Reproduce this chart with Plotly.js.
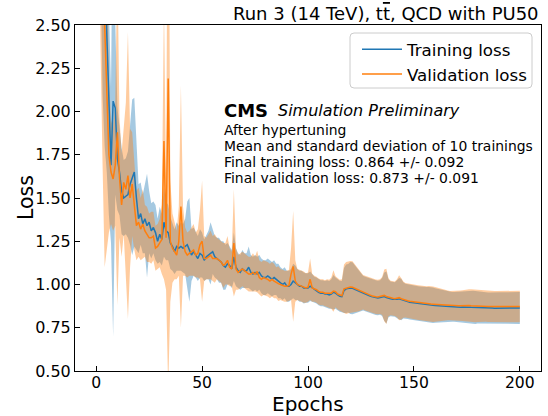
<!DOCTYPE html>
<html>
<head>
<meta charset="utf-8">
<script src="https://cdn.plot.ly/plotly-3.0.1.min.js"></script>
<style>html,body{margin:0;padding:0;background:#fff;}#chart{width:548px;height:416px;}</style>
</head>
<body>
<div id="chart"></div>
<script>
// Epoch numbers
const epochs = Array.from({length: 200}, (_, i) => i + 1);

// Mean training loss (10 trainings)
const trainMean = [
5.0,4.0,3.3,2.9,2.45,2.0,1.69,2.06,2.02,1.73,
1.65,1.54,1.50,1.51,1.52,1.58,1.62,1.65,1.50,1.38,
1.41,1.35,1.38,1.34,1.36,1.31,1.33,1.30,1.25,1.29,
1.26,1.36,1.31,1.30,1.24,1.22,1.19,1.22,1.21,1.22,
1.21,1.22,1.23,1.20,1.17,1.19,1.17,1.15,1.18,1.17,
1.14,1.16,1.17,1.18,1.19,1.16,1.15,1.14,1.13,1.11,
1.10,1.12,1.11,1.09,1.16,1.10,1.08,1.07,1.09,1.08,
1.08,1.10,1.07,1.06,1.07,1.06,1.07,1.05,1.04,1.04,
1.05,1.04,1.03,1.04,1.03,1.02,1.01,1.00,1.01,0.99,
0.99,1.00,1.02,1.01,1.00,0.99,0.99,0.98,0.98,0.98,
0.99,0.98,0.97,0.965,0.955,0.95,0.95,0.945,0.945,0.94,
0.945,0.955,0.95,0.94,0.932,0.93,0.965,0.975,0.978,0.98,
0.978,0.972,0.966,0.96,0.955,0.95,0.945,0.94,0.935,0.93,
0.926,0.924,0.922,0.925,0.928,0.93,0.925,0.92,0.917,0.915,
0.913,0.915,0.918,0.913,0.908,0.904,0.901,0.898,0.896,0.894,
0.892,0.89,0.889,0.887,0.886,0.885,0.883,0.882,0.88,0.879,
0.878,0.877,0.876,0.875,0.874,0.873,0.872,0.871,0.870,0.870,
0.869,0.869,0.870,0.871,0.870,0.869,0.868,0.868,0.867,0.867,
0.866,0.866,0.865,0.865,0.864,0.864,0.864,0.863,0.863,0.863,
0.863,0.863,0.863,0.864,0.864,0.864,0.864,0.864,0.864,0.864
];

// Standard deviation of training loss
const trainStd = [
1.2,1.2,1.2,1.1,0.8,0.6,0.45,1.36,0.5,0.3,
0.25,0.25,0.22,0.22,0.25,0.35,0.45,0.43,0.3,0.2,
0.18,0.17,0.2,0.3,0.18,0.16,0.15,0.16,0.13,0.16,
0.15,0.2,0.17,0.16,0.15,0.14,0.13,0.14,0.13,0.14,
0.14,0.16,0.25,0.3,0.15,0.14,0.13,0.13,0.14,0.13,
0.12,0.13,0.14,0.18,0.13,0.12,0.12,0.13,0.12,0.14,
0.13,0.12,0.11,0.11,0.14,0.11,0.1,0.1,0.11,0.1,
0.1,0.12,0.1,0.1,0.1,0.1,0.1,0.1,0.1,0.1,
0.1,0.1,0.1,0.1,0.09,0.1,0.09,0.09,0.09,0.09,
0.09,0.09,0.1,0.1,0.09,0.09,0.09,0.09,0.085,0.085,
0.085,0.08,0.075,0.075,0.075,0.075,0.075,0.075,0.08,0.08,
0.085,0.1,0.09,0.09,0.09,0.09,0.13,0.14,0.14,0.15,
0.15,0.14,0.13,0.12,0.11,0.1,0.1,0.1,0.1,0.1,
0.1,0.1,0.1,0.1,0.11,0.14,0.15,0.11,0.1,0.1,
0.1,0.11,0.12,0.12,0.105,0.1,0.1,0.1,0.1,0.1,
0.1,0.1,0.1,0.1,0.098,0.1,0.102,0.104,0.103,0.1,
0.098,0.095,0.092,0.09,0.088,0.087,0.086,0.086,0.086,0.087,
0.088,0.089,0.09,0.092,0.094,0.095,0.096,0.096,0.095,0.093,
0.092,0.091,0.09,0.09,0.09,0.09,0.091,0.091,0.091,0.091,
0.092,0.092,0.092,0.092,0.092,0.092,0.092,0.092,0.092,0.092
];

// Mean validation loss
const valMean = [
5.0,3.9,3.2,2.5,2.1,1.75,1.65,1.61,1.69,1.88,
1.62,1.46,1.59,1.55,1.63,1.50,1.58,1.45,1.34,1.36,
1.32,1.35,1.31,1.29,1.27,1.27,1.28,1.21,1.22,1.24,
1.26,1.83,1.27,2.19,1.25,1.21,1.19,1.17,1.25,1.45,
1.25,1.19,1.17,1.18,1.19,1.20,1.17,1.18,1.23,1.25,
1.15,1.15,1.16,1.17,1.15,1.15,1.15,1.14,1.13,1.11,
1.12,1.14,1.10,1.09,1.24,1.09,1.07,1.08,1.09,1.08,
1.07,1.06,1.06,1.07,1.06,1.075,1.04,1.03,1.04,1.035,
1.03,1.02,1.03,1.02,1.01,1.005,1.00,0.995,0.99,0.99,
0.995,1.06,1.105,1.02,1.00,0.995,0.99,0.985,0.98,0.985,
1.03,0.98,0.975,0.97,0.96,0.955,0.955,0.95,0.95,0.948,
0.95,0.962,0.958,0.945,0.938,0.935,0.975,0.98,0.984,0.986,
0.984,0.978,0.972,0.966,0.96,0.955,0.95,0.945,0.94,0.935,
0.93,0.929,0.928,0.93,0.934,0.937,0.931,0.926,0.922,0.92,
0.918,0.92,0.924,0.918,0.913,0.909,0.906,0.903,0.901,0.899,
0.897,0.895,0.894,0.892,0.891,0.89,0.889,0.887,0.886,0.885,
0.884,0.883,0.882,0.881,0.88,0.879,0.878,0.878,0.877,0.877,
0.877,0.877,0.878,0.879,0.879,0.878,0.877,0.876,0.876,0.875,
0.875,0.874,0.874,0.874,0.873,0.873,0.873,0.872,0.872,0.872,
0.872,0.872,0.872,0.873,0.873,0.873,0.873,0.873,0.873,0.873
];

// Standard deviation of validation loss
const valStd = [
1.5,1.5,1.5,1.4,0.9,0.45,0.3,0.3,0.35,1.0,
0.35,0.3,0.3,0.5,0.83,0.4,0.3,0.25,0.2,0.2,
0.18,0.2,0.15,0.16,0.14,0.15,0.14,0.13,0.13,0.14,
0.2,0.8,0.3,1.8,0.35,0.2,0.16,0.14,0.2,0.7,
0.2,0.14,0.13,0.13,0.14,0.15,0.13,0.14,0.2,0.35,
0.13,0.12,0.13,0.14,0.13,0.14,0.12,0.12,0.12,0.13,
0.12,0.14,0.11,0.1,0.31,0.12,0.1,0.1,0.1,0.1,
0.1,0.1,0.1,0.11,0.1,0.12,0.1,0.1,0.1,0.1,
0.1,0.1,0.1,0.1,0.09,0.1,0.09,0.09,0.09,0.09,
0.09,0.15,0.32,0.12,0.09,0.09,0.09,0.09,0.085,0.085,
0.12,0.08,0.075,0.075,0.075,0.075,0.075,0.075,0.08,0.08,
0.09,0.12,0.09,0.09,0.09,0.095,0.14,0.15,0.15,0.15,
0.15,0.14,0.13,0.12,0.11,0.1,0.1,0.1,0.1,0.1,
0.1,0.1,0.1,0.1,0.11,0.15,0.16,0.11,0.1,0.1,
0.1,0.11,0.13,0.12,0.105,0.1,0.1,0.1,0.1,0.1,
0.1,0.1,0.1,0.1,0.098,0.1,0.102,0.104,0.103,0.1,
0.097,0.094,0.091,0.089,0.087,0.086,0.085,0.085,0.085,0.086,
0.087,0.088,0.089,0.091,0.093,0.094,0.095,0.095,0.094,0.092,
0.091,0.09,0.09,0.09,0.09,0.09,0.09,0.09,0.09,0.09,
0.091,0.091,0.091,0.091,0.091,0.091,0.091,0.091,0.091,0.091
];

const xTicks = [0, 50, 100, 150, 200];
const yTicks = [0.5, 0.75, 1.0, 1.25, 1.5, 1.75, 2.0, 2.25, 2.5];

const BLUE = '#1f77b4', ORANGE = '#ff7f0e';
const lower = (m, s) => m.map((v, i) => v - s[i]);
const upper = (m, s) => m.map((v, i) => v + s[i]);

const traces = [
  {x: epochs, y: lower(trainMean, trainStd), mode: 'lines', line: {width: 0}, showlegend: false, hoverinfo: 'skip'},
  {x: epochs, y: upper(trainMean, trainStd), mode: 'lines', line: {width: 0}, fill: 'tonexty', fillcolor: 'rgba(31,119,180,0.4)', showlegend: false, hoverinfo: 'skip'},
  {x: epochs, y: lower(valMean, valStd), mode: 'lines', line: {width: 0}, showlegend: false, hoverinfo: 'skip'},
  {x: epochs, y: upper(valMean, valStd), mode: 'lines', line: {width: 0}, fill: 'tonexty', fillcolor: 'rgba(255,127,14,0.4)', showlegend: false, hoverinfo: 'skip'},
  {x: epochs, y: trainMean, mode: 'lines', name: 'Training loss', line: {color: BLUE, width: 1.5}},
  {x: epochs, y: valMean, mode: 'lines', name: 'Validation loss', line: {color: ORANGE, width: 1.5}}
];

const F = 'DejaVu Sans, sans-serif';
const px2x = p => (p - 75) / 466;
const px2y = p => (371 - p) / 346;

// Rounded legend frame (matplotlib-style fancy box)
const bx0 = px2x(350), bx1 = px2x(532), by0 = px2y(88), by1 = px2y(33);
const rx = 4 / 466, ry = 4 / 346;
const framePath = `M ${bx0 + rx},${by0} L ${bx1 - rx},${by0} Q ${bx1},${by0} ${bx1},${by0 + ry} ` +
  `L ${bx1},${by1 - ry} Q ${bx1},${by1} ${bx1 - rx},${by1} L ${bx0 + rx},${by1} Q ${bx0},${by1} ${bx0},${by1 - ry} ` +
  `L ${bx0},${by0 + ry} Q ${bx0},${by0} ${bx0 + rx},${by0} Z`;

const annotations = [
  {text: 'Run 3 (14 TeV), t<span style="text-decoration:overline">t</span>, QCD with PU50', xref: 'paper', yref: 'paper', x: 1, y: 1, xanchor: 'right', yanchor: 'bottom', yshift: -1, showarrow: false, font: {family: F, size: 18, color: '#000'}},
  {text: '<b>CMS</b>', xref: 'paper', yref: 'paper', x: px2x(222), y: px2y(110), xanchor: 'left', yanchor: 'middle', showarrow: false, font: {family: F, size: 18, color: '#000'}},
  {text: '<i>Simulation Preliminary</i>', xref: 'paper', yref: 'paper', x: px2x(276), y: px2y(110), xanchor: 'left', yanchor: 'middle', showarrow: false, font: {family: F, size: 16, color: '#000'}},
  {text: 'After hypertuning', xref: 'paper', yref: 'paper', x: px2x(222), y: px2y(130), xanchor: 'left', yanchor: 'middle', showarrow: false, font: {family: F, size: 13.9, color: '#000'}},
  {text: 'Mean and standard deviation of 10 trainings', xref: 'paper', yref: 'paper', x: px2x(222), y: px2y(146), xanchor: 'left', yanchor: 'middle', showarrow: false, font: {family: F, size: 13.9, color: '#000'}},
  {text: 'Final training loss: 0.864 +/- 0.092', xref: 'paper', yref: 'paper', x: px2x(222), y: px2y(162), xanchor: 'left', yanchor: 'middle', showarrow: false, font: {family: F, size: 13.9, color: '#000'}},
  {text: 'Final validation loss: 0.873 +/- 0.091', xref: 'paper', yref: 'paper', x: px2x(222), y: px2y(178), xanchor: 'left', yanchor: 'middle', showarrow: false, font: {family: F, size: 13.9, color: '#000'}},
  {text: 'Epochs', xref: 'paper', yref: 'paper', x: 0.5, y: px2y(404.3), xanchor: 'center', yanchor: 'middle', borderpad: 0, showarrow: false, font: {family: F, size: 20, color: '#000'}},
  {text: 'Loss', xref: 'paper', yref: 'paper', x: px2x(26), y: 0.5, xanchor: 'center', yanchor: 'middle', textangle: -90, showarrow: false, font: {family: F, size: 20.5, color: '#000'}}
];

const layout = {
  width: 548, height: 416,
  margin: {l: 75, r: 7, t: 25, b: 45},
  paper_bgcolor: '#fff', plot_bgcolor: '#fff',
  font: {family: F, color: '#000'},
  xaxis: {
    range: [-10, 210], tickvals: xTicks, ticktext: xTicks.map(String),
    ticks: 'inside', ticklen: 5, tickcolor: '#000', showline: true, linecolor: '#000', linewidth: 1, mirror: true,
    showgrid: false, zeroline: false, tickfont: {family: F, size: 15.6}, ticklabelstandoff: -3
  },
  yaxis: {
    range: [0.5, 2.5], tickvals: yTicks, ticktext: yTicks.map(v => v.toFixed(2)),
    ticks: 'inside', ticklen: 5, tickcolor: '#000', showline: true, linecolor: '#000', linewidth: 1, mirror: true,
    showgrid: false, zeroline: false, tickfont: {family: F, size: 16}
  },
  shapes: [
    {type: 'path', path: framePath, xref: 'paper', yref: 'paper', layer: 'above',
     fillcolor: 'rgba(255,255,255,0.8)', line: {color: '#cccccc', width: 1}}
  ],
  legend: {
    x: px2x(357), y: px2y(32), xanchor: 'left', yanchor: 'top', traceorder: 'normal',
    bgcolor: 'rgba(0,0,0,0)', borderwidth: 0, itemwidth: 40,
    font: {family: F, size: 16.7}
  },
  annotations: annotations,
  showlegend: true
};

Plotly.newPlot('chart', traces, layout, {displayModeBar: false, staticPlot: true});
</script>
</body>
</html>
